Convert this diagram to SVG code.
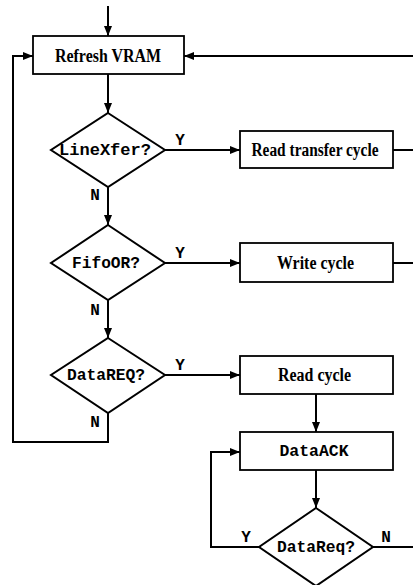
<svg xmlns="http://www.w3.org/2000/svg" width="413" height="585" viewBox="0 0 413 585">
  <style>
    .box { fill: #fff; stroke: #000; stroke-width: 1.8; }
    .dia { fill: #fff; stroke: #000; stroke-width: 2; }
    .wire { fill: none; stroke: #000; stroke-width: 2; }
    .serif { font-family: "Liberation Serif", "Times New Roman", serif; font-weight: bold; font-size: 18px; text-anchor: middle; fill: #000; }
    .mono { font-family: "Liberation Mono", "Courier New", monospace; font-weight: bold; font-size: 16px; text-anchor: middle; fill: #000; }
    .yn { font-family: "Liberation Mono", "Courier New", monospace; font-weight: bold; font-size: 16px; text-anchor: middle; fill: #000; }
  </style>
  <defs>
    <marker id="arrow" viewBox="0 0 10 8" refX="10" refY="4" markerWidth="10" markerHeight="8" markerUnits="userSpaceOnUse" orient="auto">
      <path d="M0,0 L10,4 L0,8 Z" fill="#000"/>
    </marker>
  </defs>

  <rect width="413" height="585" fill="#fff"/>

  <g id="connectors">
    <!-- entry -->
    <line class="wire" x1="108" y1="6" x2="108" y2="36" marker-end="url(#arrow)"/>
    <!-- Refresh VRAM to LineXfer? -->
    <line class="wire" x1="108" y1="74" x2="108" y2="113" marker-end="url(#arrow)"/>
    <!-- LineXfer? Y -->
    <line class="wire" x1="165" y1="150" x2="240" y2="150" marker-end="url(#arrow)"/>
    <line class="wire" x1="393" y1="150" x2="413" y2="150"/>
    <!-- return into Refresh VRAM from the right -->
    <line class="wire" x1="413" y1="56" x2="184" y2="56" marker-end="url(#arrow)"/>
    <!-- LineXfer? N -->
    <line class="wire" x1="108" y1="187" x2="108" y2="225" marker-end="url(#arrow)"/>
    <!-- FifoOR? Y -->
    <line class="wire" x1="165" y1="263" x2="240" y2="263" marker-end="url(#arrow)"/>
    <line class="wire" x1="393" y1="263" x2="413" y2="263"/>
    <!-- FifoOR? N -->
    <line class="wire" x1="108" y1="300" x2="108" y2="338" marker-end="url(#arrow)"/>
    <!-- DataREQ? Y -->
    <line class="wire" x1="165" y1="375" x2="240" y2="375" marker-end="url(#arrow)"/>
    <!-- DataREQ? N loops back to Refresh VRAM -->
    <polyline class="wire" points="108,413 108,442 13,442 13,56 33,56" marker-end="url(#arrow)"/>
    <!-- Read cycle to DataACK -->
    <line class="wire" x1="316" y1="394" x2="316" y2="432" marker-end="url(#arrow)"/>
    <!-- DataACK to DataReq? -->
    <line class="wire" x1="316" y1="470" x2="316" y2="508" marker-end="url(#arrow)"/>
    <!-- DataReq? Y loops back to DataACK -->
    <polyline class="wire" points="259,547 211,547 211,452 240,452" marker-end="url(#arrow)"/>
    <!-- DataReq? N -->
    <line class="wire" x1="373" y1="547" x2="413" y2="547"/>

    <text class="yn" x="180" y="145">Y</text>
    <text class="yn" x="95" y="200">N</text>
    <text class="yn" x="180" y="258">Y</text>
    <text class="yn" x="95" y="315">N</text>
    <text class="yn" x="180" y="370">Y</text>
    <text class="yn" x="95" y="427">N</text>
    <text class="yn" x="246" y="542">Y</text>
    <text class="yn" x="386" y="542">N</text>
  </g>

  <g id="refresh-vram">
    <rect class="box" x="33" y="36" width="151" height="38"/>
    <text class="serif" x="108" y="62" textLength="106" lengthAdjust="spacingAndGlyphs">Refresh VRAM</text>
  </g>

  <g id="linexfer">
    <polygon class="dia" points="108,113 165,150 108,187 51,150"/>
    <text class="mono" x="105" y="155" textLength="92" lengthAdjust="spacingAndGlyphs">LineXfer?</text>
  </g>

  <g id="read-transfer-cycle">
    <rect class="box" x="240" y="131" width="153" height="37"/>
    <text class="serif" x="315" y="156" textLength="127" lengthAdjust="spacingAndGlyphs">Read transfer cycle</text>
  </g>

  <g id="fifoor">
    <polygon class="dia" points="108,225 165,263 108,300 51,263"/>
    <text class="mono" x="106" y="268" textLength="68" lengthAdjust="spacingAndGlyphs">FifoOR?</text>
  </g>

  <g id="write-cycle">
    <rect class="box" x="240" y="243" width="153" height="39"/>
    <text class="serif" x="315.5" y="269" textLength="77" lengthAdjust="spacingAndGlyphs">Write cycle</text>
  </g>

  <g id="datareq-upper">
    <polygon class="dia" points="108,338 165,375 108,413 51,375"/>
    <text class="mono" x="106" y="380" textLength="78" lengthAdjust="spacingAndGlyphs">DataREQ?</text>
  </g>

  <g id="read-cycle">
    <rect class="box" x="240" y="356" width="153" height="38"/>
    <text class="serif" x="314.5" y="381" textLength="73" lengthAdjust="spacingAndGlyphs">Read cycle</text>
  </g>

  <g id="dataack">
    <rect class="box" x="240" y="432" width="153" height="38"/>
    <text class="mono" x="314" y="456" textLength="69" lengthAdjust="spacingAndGlyphs">DataACK</text>
  </g>

  <g id="datareq-lower">
    <polygon class="dia" points="316,508 373,547 316,586 259,547"/>
    <text class="mono" x="316" y="552" textLength="78" lengthAdjust="spacingAndGlyphs">DataReq?</text>
  </g>
</svg>
